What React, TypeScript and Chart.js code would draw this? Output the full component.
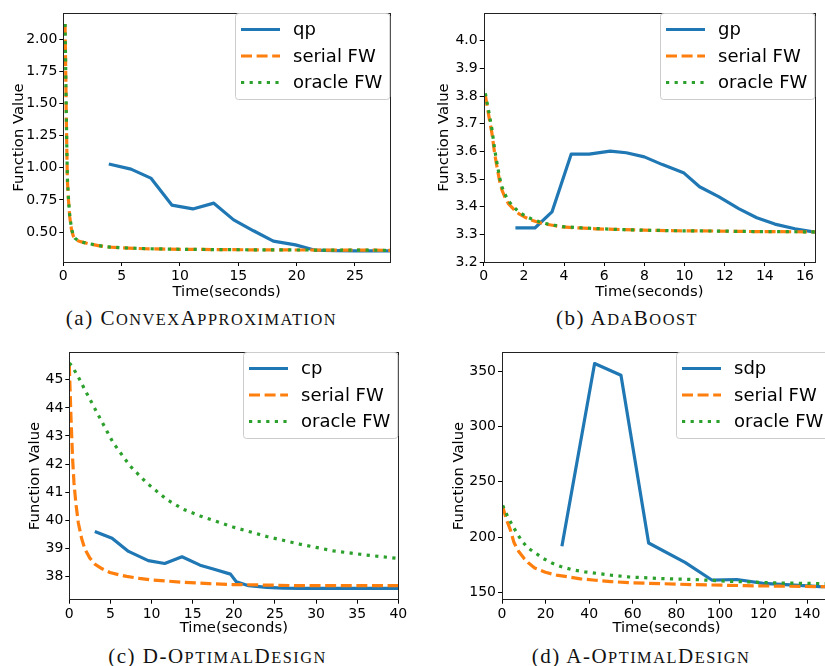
import React, { useEffect, useRef } from "react";
import { Chart, registerables } from "chart.js";

Chart.register(...registerables);

// ---------------- Data ----------------
// (a) ConvexApproximation
const A_QP_X = [3.9, 5.8, 7.5, 9.3, 11.1, 12.9, 14.6, 16.3, 18.0, 19.9, 21.5, 23.2, 25.0, 26.6, 28.0];
const A_QP_Y = [1.03, 0.99, 0.92, 0.71, 0.68, 0.725, 0.595, 0.51, 0.43, 0.40, 0.36, 0.355, 0.353, 0.353, 0.353];
const A_SERIAL_X = [0.15, 0.2, 0.25, 0.3, 0.35, 0.45, 0.55, 0.7, 0.85, 1.0, 1.3, 1.7, 2.1, 3.0, 3.6, 5, 7, 10, 14, 18, 22, 26, 28];
const A_SERIAL_Y = [2.12, 1.8, 1.45, 1.15, 0.9, 0.74, 0.62, 0.52, 0.47, 0.45, 0.43, 0.42, 0.41, 0.395, 0.385, 0.377, 0.37, 0.366, 0.363, 0.361, 0.36, 0.359, 0.358];
const A_ORACLE_X = [0.15, 0.2, 0.25, 0.3, 0.35, 0.45, 0.55, 0.7, 0.85, 1.0, 1.3, 1.7, 2.1, 3.0, 3.6, 5, 7, 10, 14, 18, 22, 26, 28];
const A_ORACLE_Y = [2.12, 1.82, 1.47, 1.17, 0.92, 0.75, 0.63, 0.53, 0.475, 0.452, 0.432, 0.421, 0.411, 0.396, 0.386, 0.378, 0.371, 0.366, 0.363, 0.361, 0.36, 0.359, 0.358];
const A_X_TICKS = [0, 5, 10, 15, 20, 25];
const A_Y_TICKS = [0.5, 0.75, 1.0, 1.25, 1.5, 1.75, 2.0];

// (b) AdaBoost
const B_GP_X = [1.58, 2.55, 3.4, 4.36, 5.25, 6.3, 7.1, 8.0, 8.9, 9.95, 10.75, 11.7, 12.7, 13.6, 14.5, 15.5, 16.5];
const B_GP_Y = [3.323, 3.323, 3.381, 3.59, 3.59, 3.601, 3.595, 3.58, 3.552, 3.523, 3.472, 3.436, 3.393, 3.36, 3.337, 3.32, 3.308];
const B_SERIAL_X = [0.08, 0.25, 0.41, 0.55, 0.66, 0.8, 0.91, 1.05, 1.24, 1.5, 1.74, 2.05, 2.4, 2.75, 3.07, 3.5, 3.9, 4.7, 5.56, 6.5, 8, 9.5, 11.4, 13.5, 16.5];
const B_SERIAL_Y = [3.804, 3.73, 3.665, 3.59, 3.544, 3.49, 3.46, 3.435, 3.41, 3.39, 3.375, 3.362, 3.351, 3.343, 3.337, 3.332, 3.327, 3.323, 3.32, 3.318, 3.315, 3.313, 3.312, 3.31, 3.309];
const B_ORACLE_X = [0.08, 0.25, 0.41, 0.55, 0.66, 0.8, 0.91, 1.05, 1.24, 1.5, 1.74, 2.05, 2.4, 2.75, 3.07, 3.5, 3.9, 4.7, 5.56, 6.5, 8, 9.5, 11.4, 13.5, 16.5];
const B_ORACLE_Y = [3.81, 3.745, 3.68, 3.605, 3.558, 3.503, 3.472, 3.446, 3.42, 3.398, 3.382, 3.367, 3.355, 3.346, 3.339, 3.333, 3.328, 3.324, 3.321, 3.318, 3.315, 3.313, 3.312, 3.31, 3.309];
const B_X_TICKS = [0, 2, 4, 6, 8, 10, 12, 14, 16];
const B_Y_TICKS = [3.2, 3.3, 3.4, 3.5, 3.6, 3.7, 3.8, 3.9, 4.0];

// (c) D-OptimalDesign
const C_CP_X = [3.1, 5.2, 7.2, 9.6, 11.6, 13.7, 15.9, 17.5, 19.6, 20.3, 21.8, 24, 26, 28, 30, 32, 34, 36, 38, 40];
const C_CP_Y = [39.6, 39.36, 38.89, 38.56, 38.46, 38.7, 38.4, 38.26, 38.08, 37.81, 37.67, 37.61, 37.58, 37.57, 37.57, 37.57, 37.57, 37.57, 37.57, 37.57];
const C_SERIAL_X = [0, 0.2, 0.4, 0.57, 0.8, 1.1, 1.5, 1.9, 2.5, 3.1, 4, 4.94, 6, 6.97, 8.5, 9.8, 12, 13.86, 17, 19.9, 24, 28, 34, 40];
const C_SERIAL_Y = [45.53, 43.7, 42.2, 41.33, 40.6, 39.9, 39.35, 38.97, 38.65, 38.44, 38.27, 38.14, 38.06, 38.0, 37.93, 37.88, 37.83, 37.79, 37.74, 37.71, 37.69, 37.67, 37.67, 37.67];
const C_ORACLE_X = [0, 0.3, 1.1, 2.1, 3.5, 5.35, 7.4, 9.4, 11.83, 13.86, 15.9, 19.9, 24, 28, 32.1, 36.1, 40];
const C_ORACLE_Y = [45.6, 45.5, 45.1, 44.53, 43.76, 42.75, 41.93, 41.33, 40.74, 40.39, 40.15, 39.76, 39.42, 39.15, 38.91, 38.76, 38.64];
const C_X_TICKS = [0, 5, 10, 15, 20, 25, 30, 35, 40];
const C_Y_TICKS = [38, 39, 40, 41, 42, 43, 44, 45];

// (d) A-OptimalDesign
const D_SDP_X = [27.5, 42.5, 54.6, 67.3, 84, 96.3, 107.8, 119.9, 132.2, 146, 151];
const D_SDP_Y = [191.6, 357, 346.4, 194.6, 177, 161.1, 161.6, 158.1, 156.7, 155.1, 155];
const D_SERIAL_X = [0.3, 2, 3.8, 5.5, 7.6, 10, 12.2, 15, 19.9, 25, 30.6, 36, 42.8, 50, 58.1, 73.4, 88.7, 111.7, 130, 151];
const D_SERIAL_Y = [227.8, 216, 206.7, 195, 187.1, 181, 176.5, 172, 168.1, 165.6, 163.9, 162.2, 160.9, 159.7, 158.7, 157.8, 156.9, 156.0, 155.5, 155];
const D_ORACLE_X = [0.3, 2.5, 4.6, 7, 9.2, 12, 15.3, 19, 22.9, 27, 32.1, 38, 44.4, 50, 58.1, 73.4, 88.7, 104, 127, 151];
const D_ORACLE_Y = [228.7, 219, 211.2, 203, 196.2, 190, 185.6, 180.5, 176.5, 173.3, 170.5, 168.5, 166.9, 165.5, 163.9, 162.4, 161.5, 160, 158.4, 157.8];
const D_X_TICKS = [0, 20, 40, 60, 80, 100, 120, 140];
const D_Y_TICKS = [150, 200, 250, 300, 350];

// ---------------- Styling ----------------
const FONT = "'DejaVu Sans', sans-serif";
const BLUE = "#1f77b4";
const ORANGE = "#ff7f0e";
const GREEN = "#2ca02c";
const LW = 3.2;

const pts = (xs: number[], ys: number[]) => xs.map((x, i) => ({ x, y: ys[i] }));

const framePlugin = {
  id: "mplFrame",
  afterDatasetsDraw(chart: any) {
    const { left, right, top, bottom } = chart.chartArea;
    const ctx = chart.ctx;
    ctx.save();
    ctx.strokeStyle = "#222";
    ctx.lineWidth = 1;
    ctx.setLineDash([]);
    ctx.strokeRect(Math.round(left) + 0.5, Math.round(top) + 0.5, Math.round(right - left), Math.round(bottom - top));
    ctx.restore();
  },
};

const legendPlugin = {
  id: "mplLegend",
  afterDraw(chart: any) {
    const ctx = chart.ctx;
    const { right, top } = chart.chartArea;
    ctx.save();
    ctx.font = `18px ${FONT}`;
    const dss = chart.data.datasets;
    const tw = Math.max(...dss.map((d: any) => ctx.measureText(d.label).width));
    const w = 6 + 39 + 13 + tw + 8;
    const h = 87;
    const x0 = Math.round(right - w);
    const y0 = Math.round(top);
    ctx.beginPath();
    (ctx as any).roundRect(x0 + 0.5, y0 + 0.5, w - 1, h - 1, 3);
    ctx.fillStyle = "rgba(255,255,255,0.85)";
    ctx.fill();
    ctx.strokeStyle = "#cccccc";
    ctx.lineWidth = 1;
    ctx.stroke();
    const rows = [16.5, 43, 69.5];
    dss.forEach((ds: any, i: number) => {
      const y = y0 + rows[i];
      ctx.beginPath();
      ctx.setLineDash(ds.borderDash || []);
      ctx.lineWidth = ds.borderWidth;
      ctx.strokeStyle = ds.borderColor;
      ctx.lineCap = "butt";
      ctx.moveTo(x0 + 6, y);
      ctx.lineTo(x0 + 45, y);
      ctx.stroke();
      ctx.setLineDash([]);
      ctx.fillStyle = "#000";
      ctx.textBaseline = "middle";
      ctx.textAlign = "left";
      ctx.fillText(ds.label, x0 + 58, y + 1);
    });
    ctx.restore();
  },
};

type PanelCfg = {
  left: number;
  top: number;
  W: number;
  H: number;
  yW: number;
  xH: number;
  padTop: number;
  padRight: number;
  yTitleCenter: number;
  xMin: number;
  xMax: number;
  yMin: number;
  yMax: number;
  xTicks: number[];
  yTicks: number[];
  yFmt: (v: number) => string;
  name: string;
  main: { x: number[]; y: number[] };
  serial: { x: number[]; y: number[] };
  oracle: { x: number[]; y: number[] };
};

const PANELS: PanelCfg[] = [
  {
    left: 0, top: 0, W: 412, H: 301, yW: 63.3, xH: 39, padTop: 13, padRight: 22, yTitleCenter: 19,
    xMin: 0, xMax: 28, yMin: 0.267, yMax: 2.205, xTicks: A_X_TICKS, yTicks: A_Y_TICKS,
    yFmt: (v) => v.toFixed(2), name: "qp",
    main: { x: A_QP_X, y: A_QP_Y }, serial: { x: A_SERIAL_X, y: A_SERIAL_Y }, oracle: { x: A_ORACLE_X, y: A_ORACLE_Y },
  },
  {
    left: 412, top: 0, W: 412, H: 301, yW: 71.7, xH: 39, padTop: 13, padRight: 9, yTitleCenter: 32.3,
    xMin: 0, xMax: 16.5, yMin: 3.2, yMax: 4.1, xTicks: B_X_TICKS, yTicks: B_Y_TICKS,
    yFmt: (v) => v.toFixed(1), name: "gp",
    main: { x: B_GP_X, y: B_GP_Y }, serial: { x: B_SERIAL_X, y: B_SERIAL_Y }, oracle: { x: B_ORACLE_X, y: B_ORACLE_Y },
  },
  {
    left: 0, top: 333, W: 412, H: 304, yW: 69.3, xH: 37.3, padTop: 19.3, padRight: 13.7, yTitleCenter: 35,
    xMin: 0, xMax: 40, yMin: 37.17, yMax: 45.98, xTicks: C_X_TICKS, yTicks: C_Y_TICKS,
    yFmt: (v) => String(Math.round(v)), name: "cp",
    main: { x: C_CP_X, y: C_CP_Y }, serial: { x: C_SERIAL_X, y: C_SERIAL_Y }, oracle: { x: C_ORACLE_X, y: C_ORACLE_Y },
  },
  {
    left: 412, top: 333, W: 430, H: 304, yW: 90, xH: 37.3, padTop: 19.3, padRight: 11, yTitleCenter: 46.7,
    xMin: 0, xMax: 151, yMin: 143.3, yMax: 367.2, xTicks: D_X_TICKS, yTicks: D_Y_TICKS,
    yFmt: (v) => String(Math.round(v)), name: "sdp",
    main: { x: D_SDP_X, y: D_SDP_Y }, serial: { x: D_SERIAL_X, y: D_SERIAL_Y }, oracle: { x: D_ORACLE_X, y: D_ORACLE_Y },
  },
];

const CAPTIONS = [
  { cx: 201.5, cy: 318, label: "(a)", name: "ConvexApproximation" },
  { cx: 627, cy: 318, label: "(b)", name: "AdaBoost" },
  { cx: 217.5, cy: 656, label: "(c)", name: "D-OptimalDesign" },
  { cx: 641, cy: 656, label: "(d)", name: "A-OptimalDesign" },
];

function SmallCaps({ text }: { text: string }) {
  // split into runs of upper-case (full size) and lower-case (small caps)
  const runs: { s: string; small: boolean }[] = [];
  for (const ch of text) {
    const small = ch !== ch.toUpperCase();
    const last = runs[runs.length - 1];
    if (last && last.small === small) last.s += ch;
    else runs.push({ s: ch, small });
  }
  return (
    <>
      {runs.map((r, i) =>
        r.small ? (
          <span key={i} style={{ fontSize: "0.78em" }}>
            {r.s.toUpperCase()}
          </span>
        ) : (
          <span key={i}>{r.s}</span>
        )
      )}
    </>
  );
}

function Panel({ cfg }: { cfg: PanelCfg }) {
  const ref = useRef<HTMLCanvasElement | null>(null);
  useEffect(() => {
    if (!ref.current) return;
    const tickFont = { family: FONT, size: 14 };
    const titleFont = { family: FONT, size: 14.8 };
    const chart = new Chart(ref.current, {
      type: "line",
      data: {
        datasets: [
          {
            label: cfg.name,
            data: pts(cfg.main.x, cfg.main.y),
            borderColor: BLUE,
            borderWidth: LW,
            borderJoinStyle: "round",
            pointRadius: 0,
            tension: 0,
            order: 2,
          },
          {
            label: "serial FW",
            data: pts(cfg.serial.x, cfg.serial.y),
            borderColor: ORANGE,
            borderWidth: LW,
            borderDash: [11, 4.6],
            borderJoinStyle: "round",
            pointRadius: 0,
            tension: 0,
            order: 1,
          },
          {
            label: "oracle FW",
            data: pts(cfg.oracle.x, cfg.oracle.y),
            borderColor: GREEN,
            borderWidth: LW,
            borderDash: [3.2, 5.4],
            borderJoinStyle: "round",
            pointRadius: 0,
            tension: 0,
            order: 0,
          },
        ] as any,
      },
      options: {
        animation: false,
        responsive: false,
        devicePixelRatio: 1,
        layout: { padding: { left: 0, top: cfg.padTop, right: cfg.padRight, bottom: 0 } },
        plugins: { legend: { display: false }, tooltip: { enabled: false } },
        scales: {
          x: {
            type: "linear",
            min: cfg.xMin,
            max: cfg.xMax,
            afterBuildTicks: (s: any) => {
              s.ticks = cfg.xTicks.map((v) => ({ value: v }));
            },
            afterFit: (s: any) => {
              s.height = cfg.xH;
            },
            grid: { display: true, drawOnChartArea: false, drawTicks: true, tickLength: 4, tickColor: "#000", tickWidth: 1 },
            border: { display: false },
            ticks: {
              color: "#000",
              font: tickFont,
              padding: 2,
              maxRotation: 0,
              autoSkip: false,
              callback: (v: any) => String(v),
            },
            title: { display: true, text: "Time(seconds)", color: "#000", font: titleFont, padding: { top: 0, bottom: 0 } },
          },
          y: {
            type: "linear",
            min: cfg.yMin,
            max: cfg.yMax,
            afterBuildTicks: (s: any) => {
              s.ticks = cfg.yTicks.map((v) => ({ value: v }));
            },
            afterFit: (s: any) => {
              s.width = cfg.yW;
            },
            grid: { display: true, drawOnChartArea: false, drawTicks: true, tickLength: 4, tickColor: "#000", tickWidth: 1 },
            border: { display: false },
            ticks: {
              color: "#000",
              font: tickFont,
              padding: 2,
              autoSkip: false,
              callback: (v: any) => cfg.yFmt(Number(v)),
            },
            title: {
              display: true,
              text: "Function Value",
              color: "#000",
              font: titleFont,
              padding: { top: cfg.yTitleCenter - 8.9, bottom: 0 },
            },
          },
        },
      } as any,
      plugins: [framePlugin, legendPlugin],
    });
    return () => chart.destroy();
  }, [cfg]);
  return (
    <canvas
      ref={ref}
      width={cfg.W}
      height={cfg.H}
      style={{ position: "absolute", left: cfg.left, top: cfg.top, width: cfg.W, height: cfg.H }}
    />
  );
}

export default function App() {
  useEffect(() => {
    document.body.style.margin = "0";
    document.body.style.overflow = "hidden";
  }, []);
  return (
    <div
      style={{
        position: "fixed",
        left: 0,
        top: 0,
        width: 825,
        height: 666,
        overflow: "hidden",
        background: "#fff",
      }}
    >
      {PANELS.map((p, i) => (
        <Panel key={i} cfg={p} />
      ))}
      {CAPTIONS.map((c, i) => (
        <div
          key={"c" + i}
          style={{
            position: "absolute",
            left: c.cx - 200,
            width: 400,
            top: c.cy - 13,
            height: 26,
            lineHeight: "26px",
            textAlign: "center",
            fontFamily: "'Liberation Serif', serif",
            fontSize: 21,
            letterSpacing: "1.5px",
            color: "#111",
            whiteSpace: "nowrap",
          }}
        >
          {c.label}{" "}
          <SmallCaps text={c.name} />
        </div>
      ))}
    </div>
  );
}
